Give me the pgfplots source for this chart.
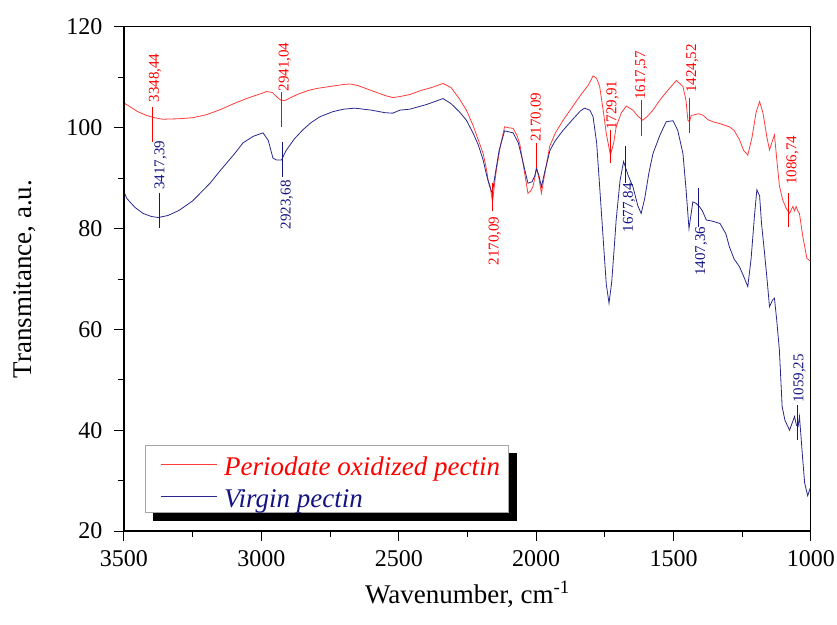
\documentclass[border=0pt]{standalone}
\usepackage{pgfplots}
\pgfplotsset{compat=1.18}
\usepackage{pgfplotstable}
\usepackage{fontspec}
\setmainfont{Liberation Serif}
\usetikzlibrary{backgrounds}
\definecolor{curvered}{RGB}{255,60,60}
\definecolor{curveblue}{RGB}{40,40,140}
\definecolor{txtred}{RGB}{255,0,0}
\definecolor{txtblue}{RGB}{20,20,130}

\pgfplotstableread{
w T
3500 104.9
3490 104.6
3450 103.2
3420 102.5
3390 102.0
3358 101.7
3300 101.8
3250 102.0
3200 102.6
3150 103.6
3100 104.8
3050 105.9
3000 106.8
2981 107.2
2960 107.0
2945 106.2
2930 105.5
2915 105.4
2900 105.8
2870 106.6
2830 107.4
2799 107.8
2750 108.2
2700 108.6
2678 108.7
2650 108.4
2600 107.4
2550 106.4
2522 106.0
2496 106.2
2460 106.6
2420 107.4
2380 108.0
2339 108.8
2310 108.0
2280 105.8
2254 103.5
2230 100.5
2210 97.5
2193 94.9
2180 91.5
2175 89.6
2168 88.5
2159 85.3
2150 89.5
2145 91.6
2130 96.5
2115 100.2
2100 100.0
2084 99.9
2070 98.5
2060 96.9
2045 92.0
2030 87.0
2020 87.5
2012 88.3
2005 90.0
1999 92.0
1990 90.0
1981 87.0
1970 90.5
1951 96.3
1930 99.0
1902 101.5
1870 104.0
1842 106.2
1810 108.5
1793 110.3
1780 109.8
1769 108.2
1755 103.0
1745 98.9
1730 94.6
1718 97.0
1709 100.2
1690 103.0
1672 104.3
1648 103.5
1630 102.3
1612 101.5
1595 102.3
1575 103.5
1550 105.5
1520 107.5
1490 109.4
1466 108.2
1455 105.5
1448 101.5
1442 101.2
1436 102.5
1430 102.5
1410 102.8
1393 102.5
1375 101.6
1357 101.2
1330 100.8
1297 100.2
1280 99.5
1260 97.6
1245 95.5
1230 94.6
1215 98.0
1200 103.0
1187 105.2
1175 103.0
1160 98.0
1151 95.6
1140 97.5
1133 98.6
1125 94.0
1115 88.5
1103 85.7
1090 84.0
1078 83.0
1066 84.4
1060 83.5
1054 84.4
1048 83.5
1042 83.0
1030 78.5
1015 74.1
1003 73.6
}\redtable

\pgfplotstableread{
w T
3500 87.3
3490 86.0
3460 84.2
3430 83.0
3400 82.4
3375 82.2
3340 82.6
3300 83.6
3250 85.5
3187 89.0
3150 91.5
3100 94.7
3067 97.0
3030 98.3
2994 99.0
2975 97.5
2958 94.0
2945 93.6
2927 93.6
2910 95.5
2880 97.8
2849 99.6
2820 101.0
2787 102.2
2740 103.2
2700 103.7
2660 103.9
2600 103.5
2550 103.0
2522 102.9
2496 103.5
2460 103.7
2400 104.6
2339 105.8
2310 104.8
2280 103.2
2254 101.5
2230 99.0
2210 96.5
2193 93.6
2180 90.5
2170 88.5
2160 87.0
2150 90.5
2135 95.5
2115 99.4
2100 99.2
2084 99.0
2065 97.0
2045 92.5
2030 89.0
2015 89.3
2005 90.5
1999 92.0
1990 90.5
1981 88.3
1970 91.0
1950 95.5
1930 97.5
1902 99.5
1870 101.5
1840 103.3
1824 103.9
1805 103.5
1793 102.2
1780 97.0
1769 88.3
1755 77.0
1745 69.0
1735 65.2
1725 69.5
1715 77.0
1709 81.7
1695 89.5
1682 93.3
1665 90.5
1648 88.3
1630 84.5
1618 83.0
1605 86.0
1590 91.0
1575 94.9
1550 98.5
1527 101.2
1502 101.4
1485 99.5
1466 94.9
1455 88.0
1444 80.0
1436 83.0
1430 85.3
1418 85.0
1405 84.3
1395 83.5
1381 81.7
1360 81.5
1331 81.0
1310 79.0
1297 76.4
1280 74.0
1260 72.4
1245 70.5
1230 68.5
1218 74.0
1205 83.0
1197 87.7
1187 86.5
1180 81.0
1169 75.1
1160 70.0
1151 64.5
1140 65.8
1133 66.2
1125 62.0
1115 55.9
1105 44.7
1095 42.0
1078 40.0
1068 41.5
1060 42.7
1053 41.0
1047 40.7
1042 42.7
1036 38.5
1030 34.1
1023 29.5
1012 27.0
1003 28.5
}\bluetable

\begin{document}
\begin{tikzpicture}
\begin{axis}[
  name=ax,
  at={(0,0)}, anchor=south west,
  scale only axis,
  width=687pt, height=504pt,
  x dir=reverse,
  xmin=1000, xmax=3500, ymin=20, ymax=120,
  xtick={1000,1500,2000,2500,3000,3500},
  ytick={20,40,60,80,100,120},
  minor x tick num=1, minor y tick num=1,
  tick pos=left, tick align=outside,
  major tick length=10pt, minor tick length=6pt,
  every tick/.style={black, line width=1pt},
  axis line style={black, line width=1pt},
  /pgf/number format/assume math mode=true,
  /pgf/number format/1000 sep={},
  tick label style={font=\fontsize{24}{24}\selectfont},
  xticklabel style={yshift=-6pt},
  yticklabel style={xshift=-8pt},
  xlabel={Wavenumber, cm\textsuperscript{-1}},
  ylabel={Transmitance, a.u.},
  every axis x label/.style={at={(axis description cs:0.5,-0.1429)}, anchor=base, font=\fontsize{27}{27}\selectfont},
  every axis y label/.style={at={(axis description cs:-0.1441,0.5)}, anchor=center, rotate=90, font=\fontsize{27}{27}\selectfont},
  legend style={
    name=leg,
    at={(axis description cs:0.0306,0.1706)}, anchor=north west,
    draw=gray!70, fill=white, line width=0.8pt,
    font=\fontsize{27}{27}\selectfont\itshape,
    inner xsep=8pt, inner ysep=3pt, row sep=3pt, column sep=0pt,
    nodes={inner sep=0pt, anchor=base west},
  },
  legend cell align=left,
  legend image code/.code={\path (0pt,-1pt) (70pt,27pt); \draw[#1] (7pt,11pt) -- (63pt,11pt);},
]
\addplot[curvered, line width=0.8pt] table[x=w,y=T] {\redtable};
\addlegendentry{\textcolor{txtred}{Periodate oxidized pectin}}
\addplot[curveblue, line width=0.8pt] table[x=w,y=T] {\bluetable};
\addlegendentry{\textcolor{txtblue}{Virgin pectin}}

\begin{scope}[every node/.style={font=\fontsize{15}{15}\selectfont, inner sep=0pt, rotate=90}]
% red annotations
\draw[txtred, line width=0.8pt] (axis cs:3395,104.1) -- (axis cs:3395,97.2);
\node[txtred, anchor=west] at (axis cs:3387,105.0) {3348,44};
\draw[txtred, line width=0.8pt] (axis cs:2929,107.2) -- (axis cs:2929,100.1);
\node[txtred, anchor=west] at (axis cs:2915,107.2) {2941,04};
\draw[txtred, line width=0.8pt] (axis cs:2159,89) -- (axis cs:2159,83.4);
\node[txtred, anchor=east] at (axis cs:2151,82.4) {2170,09};
\draw[txtred, line width=0.8pt] (axis cs:1999,97) -- (axis cs:1999,92);
\node[txtred, anchor=west] at (axis cs:1998,97.2) {2170,09};
\draw[txtred, line width=0.8pt] (axis cs:1729,99.6) -- (axis cs:1729,93);
\node[txtred, anchor=west] at (axis cs:1722,99.6) {1729,91};
\draw[txtred, line width=0.8pt] (axis cs:1617.5,105.5) -- (axis cs:1617.5,98.4);
\node[txtred, anchor=west] at (axis cs:1617.5,105.5) {1617,57};
\draw[txtred, line width=0.8pt] (axis cs:1442,105.9) -- (axis cs:1442,99);
\node[txtred, anchor=west] at (axis cs:1432,106.9) {1424,52};
\draw[txtred, line width=0.8pt] (axis cs:1084,87.1) -- (axis cs:1084,80.4);
\node[txtred, anchor=west] at (axis cs:1067,88.7) {1086,74};
% blue annotations
\draw[txtblue, line width=0.8pt] (axis cs:3372,87.1) -- (axis cs:3372,80.1);
\node[txtblue, anchor=west] at (axis cs:3367,87.7) {3417,39};
\draw[txtblue, line width=0.8pt] (axis cs:2923,97.2) -- (axis cs:2923,90.3);
\node[txtblue, anchor=east] at (axis cs:2908,89.6) {2923,68};
\draw[txtblue, line width=0.8pt] (axis cs:1675.6,96.3) -- (axis cs:1675.6,89);
\node[txtblue, anchor=east] at (axis cs:1662.5,89) {1677,84};
\draw[txtblue, line width=0.8pt] (axis cs:1409,88) -- (axis cs:1409,80.4);
\node[txtblue, anchor=east] at (axis cs:1399,80.4) {1407,36};
\draw[txtblue, line width=0.8pt] (axis cs:1048,45) -- (axis cs:1048,38);
\node[txtblue, anchor=west] at (axis cs:1042,45.4) {1059,25};
\end{scope}
\end{axis}
\begin{pgfonlayer}{background}
\fill[black] ([xshift=8pt,yshift=-8pt]leg.south west) rectangle ([xshift=8pt,yshift=-8pt]leg.north east);
\end{pgfonlayer}
\draw[black, line width=2pt] (ax.north west) -- (ax.south west) -- (ax.south east);
\pgfresetboundingbox
\path[use as bounding box] (ax.south west) ++(-124pt,-93pt) rectangle ++(837pt,624pt);
\end{tikzpicture}
\end{document}
